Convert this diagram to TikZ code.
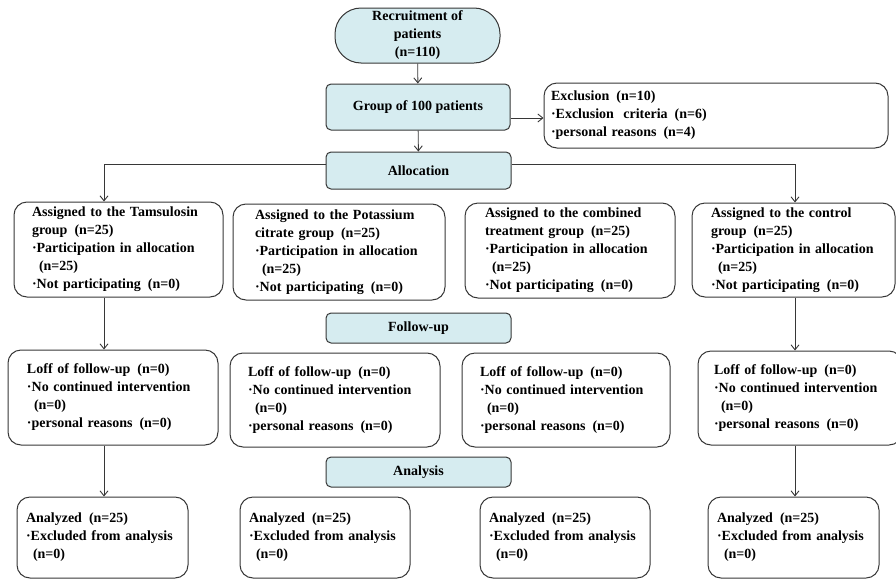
\documentclass[tikz,border=0pt]{standalone}
\usepackage{fontspec}
\setmainfont{Liberation Serif}
\definecolor{main}{RGB}{214,236,240}
\definecolor{second}{RGB}{55,55,55}
\usetikzlibrary{
	arrows.meta,
	positioning
}
\hyphenpenalty=10000
\newcommand{\nn}[1]{\hspace*{.5em}(n=#1)}
\tikzset{
  % arrow
	cstwra/.style      ={-{Straight Barb[length=5pt,width=8pt]},line width=.9pt,draw=second}, % wide ra
  % node
	cstnode/.style     ={fill=white,draw=second,text=black,rounded corners=13pt,line width=1pt,
		align=left,inner sep=0pt,font=\fontsize{14}{18}\selectfont\bfseries},
	cstnode1/.style    ={fill=main,draw=second,text=black,rounded corners=5pt,line width=1pt,
		align=center,inner sep=0pt,font=\fontsize{14}{18}\selectfont\bfseries}
}
\begin{document}
\begin{tikzpicture}[x=1pt,y=-1pt]
	\useasboundingbox (0,0) rectangle (896,581);
	% enrolment
	\node[cstnode1,rounded corners=26pt,minimum width=165pt,minimum height=55pt] (recruit) at (417.5,35.5) {Recruitment of\\patients\\(n=110)};
	\node[cstnode1,minimum width=184pt,minimum height=46pt] (group) at (418,107) {Group of 100 patients};
	\node[cstnode1,minimum width=185pt,minimum height=37pt] (alloc) at (418.5,170.5) {Allocation};
	\node[cstnode,minimum width=344pt,minimum height=65pt,text width=330pt] (excl) at (716,115.5)
		{Exclusion\nn{10}\\·Exclusion\ \ criteria\nn{6}\\·personal reasons\nn{4}};
	% allocation
	\node[cstnode,minimum width=209pt,minimum height=95pt,text width=173pt] (tam1) at (118.5,249.5)
		{Assigned to the Tamsulosin\\group\nn{25}\\·Participation in allocation\\\nn{25}\\·Not participating\nn{0}};
	\node[cstnode,minimum width=212pt,minimum height=96pt,text width=168pt] (pot1) at (339,252)
		{Assigned to the Potassium\\citrate group\nn{25}\\·Participation in allocation\\\nn{25}\\·Not participating\nn{0}};
	\node[cstnode,minimum width=210pt,minimum height=95pt,text width=170pt] (com1) at (570,250.5)
		{Assigned to the combined\\treatment group\nn{25}\\·Participation in allocation\\\nn{25}\\·Not participating\nn{0}};
	\node[cstnode,minimum width=203pt,minimum height=94pt,text width=165pt] (con1) at (793.5,250)
		{Assigned to the control\\group\nn{25}\\·Participation in allocation\\\nn{25}\\·Not participating\nn{0}};
	% follow-up
	\node[cstnode1,minimum width=185pt,minimum height=30pt] (follow) at (418.5,328) {Follow-up};
	\node[cstnode,minimum width=210pt,minimum height=95pt,text width=172pt] (tam2) at (113,397.5)
		{Loff of follow-up\nn{0}\\·No continued intervention\\\nn{0}\\·personal reasons\nn{0}};
	\node[cstnode,minimum width=210pt,minimum height=94pt,text width=174pt] (pot2) at (335,400)
		{Loff of follow-up\nn{0}\\·No continued intervention\\\nn{0}\\·personal reasons\nn{0}};
	\node[cstnode,minimum width=208pt,minimum height=94pt,text width=172pt] (com2) at (566,400)
		{Loff of follow-up\nn{0}\\·No continued intervention\\\nn{0}\\·personal reasons\nn{0}};
	\node[cstnode,minimum width=204pt,minimum height=94pt,text width=172pt] (con2) at (800,398)
		{Loff of follow-up\nn{0}\\·No continued intervention\\\nn{0}\\·personal reasons\nn{0}};
	% analysis
	\node[cstnode1,minimum width=185pt,minimum height=30pt] (analysis) at (418.5,472) {Analysis};
	\node[cstnode,minimum width=171pt,minimum height=81pt,text width=153pt] (tam3) at (102.5,537.5)
		{Analyzed\nn{25}\\·Excluded from analysis\\\nn{0}};
	\node[cstnode,minimum width=170pt,minimum height=81pt,text width=152pt] (pot3) at (325,537.5)
		{Analyzed\nn{25}\\·Excluded from analysis\\\nn{0}};
	\node[cstnode,minimum width=170pt,minimum height=81pt,text width=152pt] (com3) at (565,537.5)
		{Analyzed\nn{25}\\·Excluded from analysis\\\nn{0}};
	\node[cstnode,minimum width=171pt,minimum height=81pt,text width=153pt] (con3) at (793.5,537.5)
		{Analyzed\nn{25}\\·Excluded from analysis\\\nn{0}};
	% connectors
	\coordinate (gx) at (510,118);
	\coordinate (lft) at (104,164);
	\coordinate (rgt) at (795,164);
	\draw[cstwra] (recruit) -- (group);
	\draw[cstwra] (group) -- (alloc);
	\draw[cstwra] (group.east |- gx) -- (excl.west |- gx);
	\draw[cstwra] (alloc.west |- lft) -| (tam1.north -| lft);
	\draw[cstwra] (alloc.east |- rgt) -| (con1.north -| rgt);
	\draw[cstwra] (tam1.south -| lft) -- (tam2.north -| lft);
	\draw[cstwra] (tam2.south -| lft) -- (tam3.north -| lft);
	\draw[cstwra] (con1.south -| rgt) -- (con2.north -| rgt);
	\draw[cstwra] (con2.south -| rgt) -- (con3.north -| rgt);
\end{tikzpicture}
\end{document}
